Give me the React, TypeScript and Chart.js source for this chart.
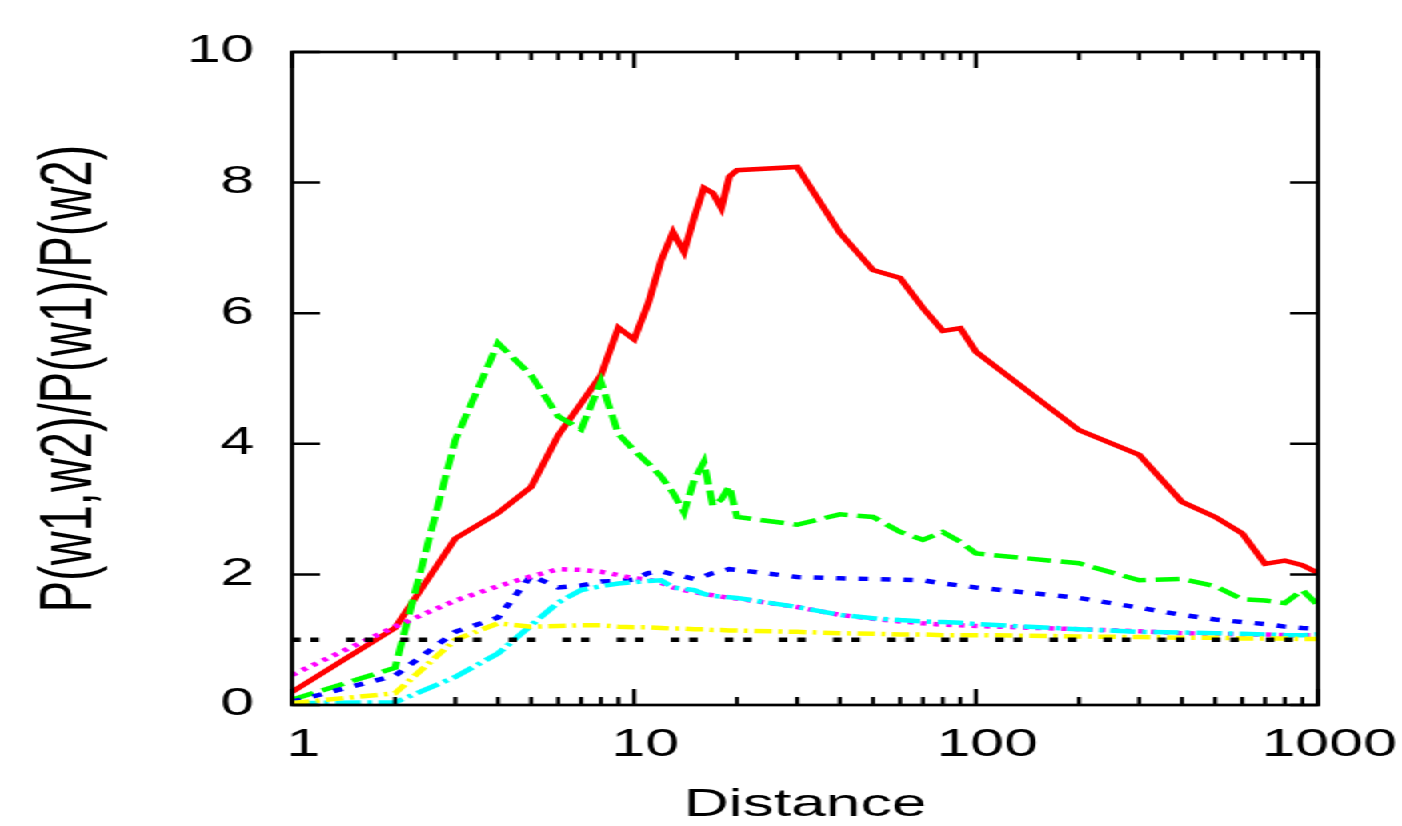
import React, { useEffect, useRef } from 'react';
import { Chart, registerables } from 'chart.js';

Chart.register(...registerables);

// ---------- data ----------
const DISTANCE = [1, 2, 3, 4, 5, 6, 7, 8, 9, 10, 11, 12, 13, 14, 15, 16, 17, 18, 19, 20, 30, 40, 50, 60, 70, 80, 90, 100, 200, 300, 400, 500, 600, 700, 800, 900, 1000];
const SERIES_RED = [0.2, 1.18, 2.55, 2.94, 3.34, 4.13, 4.62, 5.05, 5.78, 5.6, 6.15, 6.81, 7.24, 6.94, 7.47, 7.92, 7.84, 7.61, 8.09, 8.19, 8.24, 7.23, 6.66, 6.54, 6.08, 5.73, 5.77, 5.41, 4.21, 3.83, 3.11, 2.88, 2.63, 2.16, 2.21, 2.14, 2.02];
const SERIES_GREEN = [0.08, 0.57, 4.06, 5.54, 5.05, 4.42, 4.22, 4.95, 4.15, 3.9, 3.7, 3.5, 3.25, 2.95, 3.45, 3.72, 3.05, 3.15, 3.35, 2.88, 2.76, 2.92, 2.88, 2.65, 2.53, 2.65, 2.5, 2.32, 2.17, 1.91, 1.93, 1.82, 1.62, 1.6, 1.56, 1.76, 1.53];
const SERIES_BLUE = [0.05, 0.45, 1.12, 1.34, 1.98, 1.8, 1.83, 1.89, 1.9, 1.92, 2.02, 2.05, 2.0, 1.97, 1.93, 1.97, 2.02, 2.05, 2.08, 2.07, 1.96, 1.94, 1.93, 1.92, 1.91, 1.86, 1.83, 1.8, 1.64, 1.49, 1.38, 1.31, 1.27, 1.24, 1.2, 1.18, 1.17];
const SERIES_MAGENTA = [0.46, 1.2, 1.6, 1.82, 1.97, 2.08, 2.07, 2.04, 1.99, 1.94, 1.92, 1.87, 1.8, 1.76, 1.73, 1.7, 1.68, 1.66, 1.64, 1.63, 1.5, 1.38, 1.32, 1.28, 1.25, 1.23, 1.22, 1.21, 1.16, 1.13, 1.1, 1.09, 1.08, 1.08, 1.07, 1.07, 1.07];
const SERIES_CYAN = [0.03, 0.04, 0.43, 0.79, 1.22, 1.57, 1.76, 1.82, 1.86, 1.88, 1.9, 1.91, 1.8, 1.78, 1.76, 1.7, 1.67, 1.66, 1.65, 1.64, 1.5, 1.38, 1.33, 1.3, 1.28, 1.27, 1.26, 1.24, 1.16, 1.12, 1.11, 1.1, 1.09, 1.08, 1.07, 1.07, 1.08];
const SERIES_YELLOW = [0.03, 0.18, 1.0, 1.25, 1.2, 1.21, 1.22, 1.22, 1.2, 1.19, 1.19, 1.18, 1.17, 1.17, 1.16, 1.16, 1.15, 1.15, 1.14, 1.14, 1.12, 1.1, 1.09, 1.08, 1.08, 1.07, 1.07, 1.07, 1.05, 1.04, 1.03, 1.03, 1.02, 1.02, 1.02, 1.01, 1.01];
const REFERENCE_X = [1, 1000];
const REFERENCE_Y = [1, 1];

const X_LABELED_TICKS = [1, 10, 100, 1000];
const X_MIN = 1;
const X_MAX = 1000;
const Y_MIN = 0;
const Y_MAX = 10;
const Y_STEP = 2;
const X_TITLE = 'Distance';
const Y_TITLE = 'P(w1,w2)/P(w1)/P(w2)';

// ---------- layout (internal canvas space, stretched horizontally) ----------
const CANVAS_W = 876;
const CANVAS_H = 826;
const STRETCH_X = 1402 / CANVAS_W;
const FONT = '"Liberation Sans", Arial, Helvetica, sans-serif';

const pairs = (xs: number[], ys: number[]) => xs.map((x, i) => ({ x, y: ys[i] }));

const framePlugin = {
  id: 'gnuplotFrame',
  afterDraw(chart: any) {
    const { ctx, chartArea } = chart;
    const { left, right, top, bottom } = chartArea;
    const xs = chart.scales.x;
    const ys = chart.scales.y;
    ctx.save();
    ctx.strokeStyle = '#000';
    ctx.lineCap = 'butt';
    ctx.lineWidth = 2.7;
    ctx.strokeRect(left, top, right - left, bottom - top);
    ctx.lineWidth = 2.5;
    ctx.beginPath();
    const e0 = Math.round(Math.log10(xs.min));
    const e1 = Math.round(Math.log10(xs.max));
    for (let e = e0; e <= e1; e++) {
      for (let m = 1; m <= 9; m++) {
        const v = m * Math.pow(10, e);
        if (v < xs.min || v > xs.max) continue;
        const px = xs.getPixelForValue(v);
        const len = m === 1 ? 16 : 8;
        ctx.moveTo(px, bottom);
        ctx.lineTo(px, bottom - len);
        ctx.moveTo(px, top);
        ctx.lineTo(px, top + len);
      }
    }
    ys.ticks.forEach((t: any) => {
      const py = ys.getPixelForValue(t.value);
      ctx.moveTo(left, py);
      ctx.lineTo(left + 17.5, py);
      ctx.moveTo(right, py);
      ctx.lineTo(right - 17.5, py);
    });
    ctx.stroke();
    ctx.restore();
  },
};

export default function App() {
  const canvasRef = useRef<HTMLCanvasElement | null>(null);

  useEffect(() => {
    const canvas = canvasRef.current;
    if (!canvas) return;
    const line = (data: any[], color: string, dash: number[], order: number) => ({
      data,
      borderColor: color,
      backgroundColor: color,
      borderWidth: 4.5,
      borderDash: dash,
      pointRadius: 0,
      tension: 0,
      fill: false,
      order,
    });
    const chart = new Chart(canvas, {
      type: 'line',
      data: {
        datasets: [
          line(pairs(REFERENCE_X, REFERENCE_Y), '#000000', [5.3, 6.2, 5.3, 17], 1),
          line(pairs(DISTANCE, SERIES_YELLOW), '#ffff00', [11, 4, 2.5, 4], 2),
          line(pairs(DISTANCE, SERIES_CYAN), '#00ffff', [16, 4, 3, 4], 3),
          line(pairs(DISTANCE, SERIES_MAGENTA), '#ff00ff', [3.5, 4.5], 4),
          line(pairs(DISTANCE, SERIES_BLUE), '#0000ff', [6, 8], 5),
          line(pairs(DISTANCE, SERIES_GREEN), '#00ff00', [15, 6], 6),
          line(pairs(DISTANCE, SERIES_RED), '#ff0000', [], 7),
        ],
      },
      options: {
        animation: false,
        responsive: false,
        devicePixelRatio: 1,
        layout: { padding: { top: 52, right: 52.5, bottom: 0, left: 0 } },
        plugins: { legend: { display: false }, tooltip: { enabled: false } },
        scales: {
          x: {
            type: 'logarithmic',
            min: X_MIN,
            max: X_MAX,
            grid: { display: false, drawTicks: false },
            border: { display: false },
            ticks: {
              autoSkip: false,
              maxRotation: 0,
              padding: 18,
              labelOffset: 7,
              color: '#000',
              font: { family: FONT, size: 38 },
              callback: (v: any) => (X_LABELED_TICKS.includes(Number(v)) ? String(v) : ''),
            },
            title: {
              display: true,
              text: X_TITLE,
              color: '#000',
              font: { family: FONT, size: 39, lineHeight: 1 },
              padding: { top: 0, bottom: 1.5 },
            },
            afterFit: (s: any) => {
              s.height = CANVAS_H - 705;
              s.paddingLeft = 0;
              s.paddingRight = 0;
            },
          },
          y: {
            type: 'linear',
            min: Y_MIN,
            max: Y_MAX,
            grid: { display: false, drawTicks: false },
            border: { display: false },
            ticks: {
              stepSize: Y_STEP,
              padding: 23.5,
              color: '#000',
              font: { family: FONT, size: 38 },
            },
            title: {
              display: true,
              text: Y_TITLE,
              color: '#000',
              font: { family: FONT, size: 47, lineHeight: 1 },
              padding: { top: 21, bottom: 0 },
            },
            afterFit: (s: any) => {
              s.width = 182.5;
              s.paddingTop = 0;
              s.paddingBottom = 0;
            },
          },
        },
      },
      plugins: [framePlugin],
    } as any);
    return () => chart.destroy();
  }, []);

  return (
    <div
      style={{
        position: 'fixed',
        left: 0,
        top: 0,
        width: CANVAS_W,
        height: CANVAS_H,
        transform: `scaleX(${STRETCH_X})`,
        transformOrigin: '0 0',
        background: '#fff',
      }}
    >
      <canvas ref={canvasRef} width={CANVAS_W} height={CANVAS_H} />
    </div>
  );
}
